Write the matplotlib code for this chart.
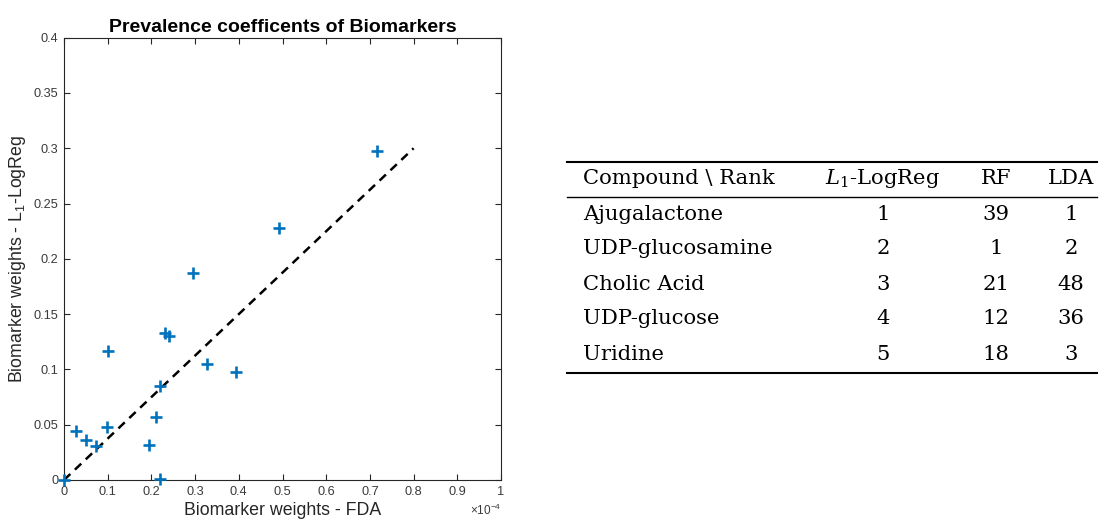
import matplotlib
matplotlib.use('Agg')
import matplotlib.pyplot as plt
from matplotlib.ticker import FuncFormatter, MultipleLocator

# FDA weights (x) and L1-LogReg weights (y) for each biomarker
fda_weights = [0.0, 0.027e-4, 0.050e-4, 0.073e-4, 0.098e-4, 0.100e-4, 0.195e-4,
               0.210e-4, 0.220e-4, 0.220e-4, 0.230e-4, 0.241e-4, 0.296e-4,
               0.327e-4, 0.394e-4, 0.493e-4, 0.716e-4]
logreg_weights = [0.0, 0.044, 0.036, 0.031, 0.048, 0.117, 0.032,
                  0.057, 0.085, 0.001, 0.133, 0.130, 0.1875,
                  0.1045, 0.098, 0.2275, 0.2977]

# reference line
ref_x = [0.0, 0.8e-4]
ref_y = [0.0, 0.3]

# rank table
compounds = ['Ajugalactone', 'UDP-glucosamine', 'Cholic Acid', 'UDP-glucose', 'Uridine']
rank_logreg = [1, 2, 3, 4, 5]
rank_rf = [39, 1, 21, 12, 18]
rank_lda = [1, 2, 48, 36, 3]
headers = ['Compound \\ Rank', '$L_1$-LogReg', 'RF', 'LDA']

W, H = 1099, 521
fig = plt.figure(figsize=(W / 100, H / 100), dpi=100)
plt.rcParams['font.family'] = ['Liberation Sans', 'DejaVu Sans']
plt.rcParams['mathtext.fontset'] = 'custom'
plt.rcParams['mathtext.rm'] = 'Liberation Sans'
plt.rcParams['mathtext.it'] = 'Liberation Sans:italic'

axc = '#262626'
ax = fig.add_axes([64 / W, 1 - 480 / H, (501 - 64) / W, (480 - 37.7) / H])
ax.scatter(fda_weights, logreg_weights, marker='+', s=75, linewidths=1.9,
           color='#0072BD', zorder=3, clip_on=False)
ax.plot(ref_x, ref_y, '--', color='black', linewidth=1.8, dashes=(3.5, 2.5))
ax.set_xlim(0, 1e-4)
ax.set_ylim(0, 0.4)
ax.xaxis.set_major_locator(MultipleLocator(0.1e-4))
ax.yaxis.set_major_locator(MultipleLocator(0.05))
ax.xaxis.set_major_formatter(FuncFormatter(lambda v, p: f'{v * 1e4:.10g}'))
ax.yaxis.set_major_formatter(FuncFormatter(lambda v, p: f'{round(v, 4):g}'))
ax.tick_params(direction='in', top=True, right=True, length=4.5, width=0.8,
               labelsize=9.2, colors=axc, labelcolor='#3a3a3a', pad=4)
for sp in ax.spines.values():
    sp.set_color(axc)
    sp.set_linewidth(0.8)
ax.set_title('Prevalence coefficents of Biomarkers', fontsize=14, fontweight='bold', pad=4)
ax.set_xlabel('Biomarker weights - FDA', fontsize=12.8, color=axc, labelpad=3)
ax.set_ylabel('Biomarker weights - L$_1$-LogReg', fontsize=12.8, color=axc, labelpad=4)
ax.text(1.0, -0.068, r'$\times$10$^{-4}$', transform=ax.transAxes, fontsize=8.5,
        color='#3a3a3a', ha='right', va='center')

# table drawn in figure pixel coordinates
tx = fig.add_axes([0, 0, 1, 1])
tx.set_xlim(0, W)
tx.set_ylim(H, 0)
tx.axis('off')
serif = ['DejaVu Serif']
fs = 15.2
tx.plot([567, 1097], [162, 162], color='black', linewidth=1.5)
tx.plot([567, 1097], [197, 197], color='black', linewidth=1.0)
tx.plot([567, 1097], [373, 373], color='black', linewidth=1.5)
col_x = [583, 883, 996, 1071]
tx.text(col_x[0], 179, headers[0], ha='left', va='center', fontsize=fs, family=serif)
for j in range(1, 4):
    tx.text(col_x[j], 179, headers[j], ha='center', va='center', fontsize=fs, family=serif,
            math_fontfamily='dejavuserif')
row_y = [214, 249, 284, 319, 354]
for i, name in enumerate(compounds):
    y = row_y[i]
    tx.text(col_x[0], y, name, ha='left', va='center', fontsize=fs, family=serif)
    tx.text(col_x[1], y, str(rank_logreg[i]), ha='center', va='center', fontsize=fs, family=serif)
    tx.text(col_x[2], y, str(rank_rf[i]), ha='center', va='center', fontsize=fs, family=serif)
    tx.text(col_x[3], y, str(rank_lda[i]), ha='center', va='center', fontsize=fs, family=serif)

fig.savefig('out.png', dpi=100)
